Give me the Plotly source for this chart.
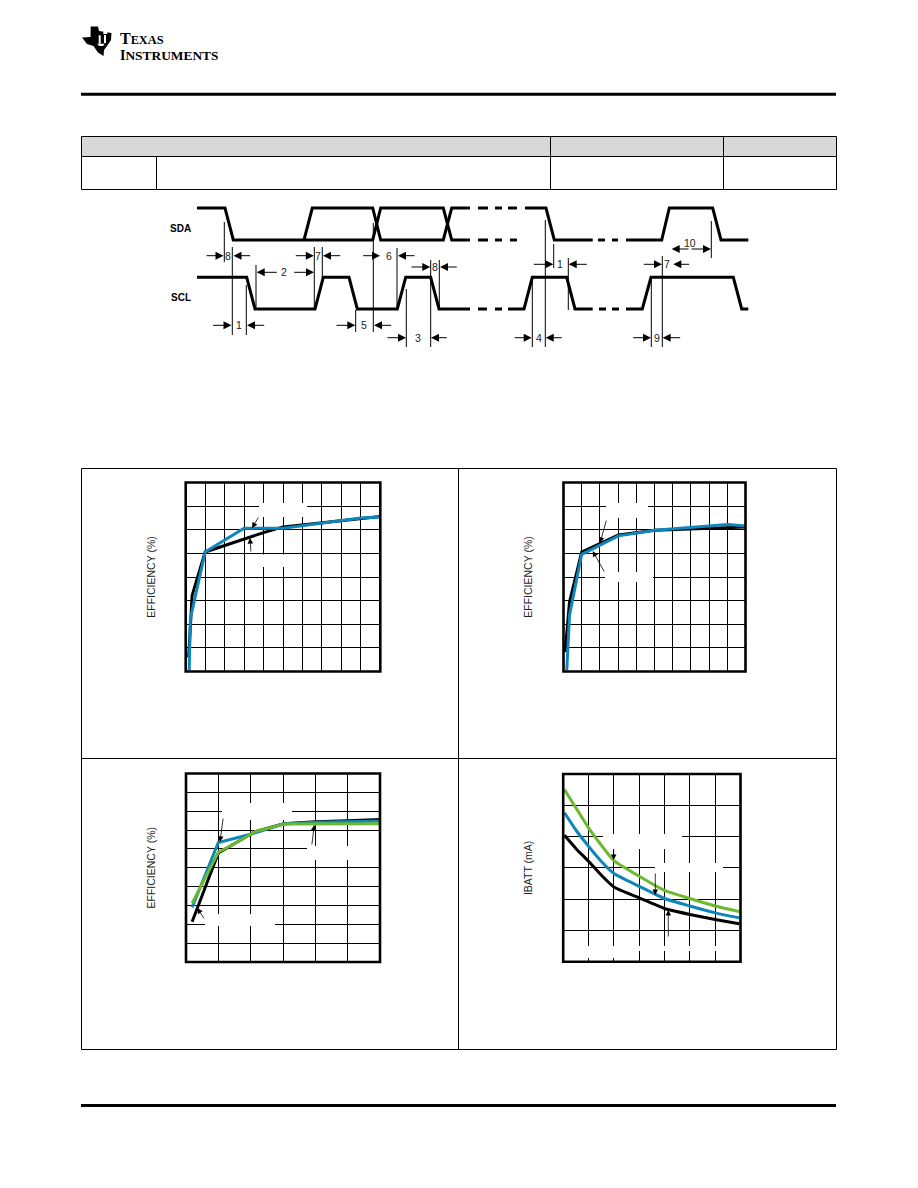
import plotly.graph_objects as go

W, H = 918, 1188
BLACK = "#000000"
BLUE = "#0f86bb"
GREEN = "#6cb92d"
FONT = "Liberation Sans"

# ---- chart data ----
EFF1_X_BLACK = [15, 33, 100, 300, 400, 500, 1000]
EFF1_Y_BLACK = [63.0, 76.1, 85.3, 88.1, 89.4, 90.6, 92.8]
EFF1_X_BLUE = [18, 24, 100, 300, 500, 900, 1000]
EFF1_Y_BLUE = [60.2, 71.2, 85.3, 90.3, 90.3, 92.5, 92.7]

EFF2_X_BLACK = [9, 33, 100, 204, 302, 501, 798, 1000]
EFF2_Y_BLACK = [64.1, 74.7, 85.3, 87.1, 88.9, 89.9, 90.4, 90.6]
EFF2_X_BLUE = [18, 33, 100, 302, 501, 798, 903, 1000]
EFF2_Y_BLUE = [60.2, 71.9, 84.8, 88.7, 89.9, 90.8, 91.1, 90.8]

EFF3_X_BLACK = [0.19, 1, 1.52, 2.14, 3.02, 4, 5, 6]
EFF3_Y_BLACK = [60.7, 78.9, 81.5, 84.6, 86.7, 87.2, 87.5, 87.8]
EFF3_X_BLUE = [0.19, 1, 2, 3.02, 4, 6]
EFF3_Y_BLUE = [64.5, 81.7, 83.9, 86.6, 87.1, 87.4]
EFF3_X_GREEN = [0.19, 1, 1.52, 2.14, 3.02, 6]
EFF3_Y_GREEN = [65.6, 79.1, 81.5, 84.6, 86.6, 86.7]

IBATT_X = [3.01, 3.1, 3.2, 3.3, 3.4, 3.6, 3.8, 4.0, 4.2, 4.39]
IBATT_GREEN = [550, 492, 428, 373, 323, 273, 228, 202, 178, 160]
IBATT_BLUE = [476, 421, 369, 321, 282, 241, 202, 178, 156, 140]
IBATT_BLACK = [404, 362, 321, 277, 239, 204, 170, 151, 135, 121]

# ---- timing diagram (page units) ----
SDA_X = [197, 225, 233.3, 372.7, 380.7, 443.3, 451.7, 470, None,
         304, 312.3, 372.7, 380.7, 443.3, 451.7, 470, None,
         478, 488, None, 495, 502, None, 508, 517, None,
         478, 488, None, 495, 502, None, 510, 517, None,
         525, 546, 554.3, 592.7, None, 598, 605, None, 612, 618, None,
         626, 661.7, 669.3, 712.7, 721, 748.3]
SDA_Y = [208, 208, 240, 240, 208, 208, 240, 240, None,
         240, 208, 208, 240, 240, 208, 208, None,
         208, 208, None, 208, 208, None, 208, 208, None,
         240, 240, None, 240, 240, None, 240, 240, None,
         208, 208, 240, 240, None, 240, 240, None, 240, 240, None,
         240, 240, 208, 208, 240, 240]
SCL_X = [197, 246.7, 255, 315, 323.3, 349, 357.3, 397.3, 405.7, 430.7, 439, 470, None,
         478, 487, None, 495, 502, None,
         508, 524, 532.3, 566.7, 575, 592.7, None, 599, 606, None, 612, 619, None,
         626, 642.3, 651, 733.3, 741.7, 748.3]
SCL_Y = [277.3, 277.3, 309, 309, 277.3, 277.3, 309, 309, 277.3, 277.3, 309, 309, None,
         309, 309, None, 309, 309, None,
         309, 309, 277.3, 277.3, 309, 309, None, 309, 309, None, 309, 309, None,
         309, 309, 277.3, 277.3, 309, 309]
DIM_LINES = [(224.3, 222, 262), (232.3, 247, 335), (246.3, 285, 335), (256, 265, 308),
             (314.3, 247, 308), (322.3, 247, 278), (373.3, 223, 332), (397, 248, 308),
             (355.7, 310, 332), (406.3, 289, 347), (430.7, 260, 347), (439.3, 260, 310),
             (545.3, 220, 347), (553.7, 244, 268), (568.3, 258, 310), (532.3, 277, 347),
             (711.3, 221, 258), (662.3, 256, 347), (651.3, 277, 347)]
DIM_ARROWS = [(205, 223.5, 255.7), (251.7, 233.5, 255.7), (211.7, 231.5, 325.3), (265.7, 247, 325.3),
              (294.3, 313.8, 255.7), (341.7, 323, 255.7), (361.7, 380, 255.7), (416, 398, 255.7),
              (410, 430.3, 267), (458.3, 440, 267), (278.3, 256.7, 272.3), (292.7, 314, 272.3),
              (335, 355.3, 325.3), (392.7, 374, 325.3), (386, 406, 337.7), (448.3, 431, 337.7),
              (532.3, 553.3, 264.3), (588.3, 568.7, 264.3), (513.3, 531.7, 337.7), (563.3, 545.7, 337.7),
              (642.3, 662, 264.3), (690.7, 673.3, 264.3), (631.7, 651, 337.7), (681.7, 662.7, 337.7),
              (690, 671.7, 249), (690, 711, 249)]
DIM_TEXT = [("8", 228.3, 255.7), ("1", 239, 325.3), ("7", 318.3, 255.7), ("6", 388.7, 255.7),
            ("8", 434.7, 267), ("2", 284.3, 272.3), ("5", 364.3, 325.3), ("3", 418, 337.7),
            ("1", 559.7, 264.3), ("4", 539, 337.7), ("7", 666.7, 264.3), ("9", 656.7, 337.7),
            ("10", 690, 243)]
SIGNALS = [("SDA", 180.5, 228.5), ("SCL", 180.5, 297.5)]

# ---- chart frames: left, right, top, bottom, x range, y range, dticks ----
PANELS = {
    "2": dict(box=(185.7, 380.3, 482.5, 671.5), xr=(0, 1000), yr=(60, 100), dx=100, dy=5, title="EFFICIENCY (%)"),
    "3": dict(box=(563.5, 745.5, 482.5, 671.5), xr=(0, 1000), yr=(60, 100), dx=100, dy=5, title="EFFICIENCY (%)"),
    "4": dict(box=(186, 380, 773.5, 962), xr=(0, 6), yr=(50, 100), dx=1, dy=5, title="EFFICIENCY (%)"),
    "5": dict(box=(563.2, 740.5, 774, 961.7), xr=(3.0, 4.4), yr=(0, 600), dx=0.2, dy=100, title="IBATT (mA)"),
}
# white patches over the grid (page units)
MASKS = {
    "2": [(259, 307, 503, 517), (253, 297, 554.5, 567)],
    "3": [(606, 648, 503, 518), (605, 653, 572, 582)],
    "4": [(222, 292, 803, 820), (307, 379, 846, 860), (205, 275, 914, 926)],
    "5": [(603, 682, 834, 849), (655, 723, 863, 872), (567, 637, 946, 958), (637, 738, 946, 951)],
}
LEADERS = [
    (259.3, 516, 252, 528), (251, 553, 250, 538),
    (606.7, 519, 600, 543), (605, 573, 592.7, 551),
    (223.3, 817, 220, 842), (311.7, 846, 314.3, 825), (205, 920, 197.3, 908),
    (613.7, 849, 613.7, 860), (655.3, 872, 655.3, 895), (668.3, 938, 668.3, 910),
]

fig = go.Figure()


def pg(x, y, **kw):
    fig.add_trace(go.Scatter(x=x, y=y, xaxis="x", yaxis="y", mode="lines", hoverinfo="skip",
                             showlegend=False, **kw))


pg(SDA_X, SDA_Y, line=dict(color=BLACK, width=3))
pg(SCL_X, SCL_Y, line=dict(color=BLACK, width=3))
for x, y0, y1 in DIM_LINES:
    pg([x, x], [y0, y1], line=dict(color=BLACK, width=1))


def series(k, x, y, color, shape="linear"):
    fig.add_trace(go.Scatter(x=x, y=y, xaxis="x" + k, yaxis="y" + k, mode="lines", hoverinfo="skip",
                             showlegend=False, line=dict(color=color, width=3, shape=shape, smoothing=0.5)))


series("2", EFF1_X_BLACK, EFF1_Y_BLACK, BLACK)
series("2", EFF1_X_BLUE, EFF1_Y_BLUE, BLUE)
series("3", EFF2_X_BLACK, EFF2_Y_BLACK, BLACK)
series("3", EFF2_X_BLUE, EFF2_Y_BLUE, BLUE)
series("4", EFF3_X_BLACK, EFF3_Y_BLACK, BLACK)
series("4", EFF3_X_BLUE, EFF3_Y_BLUE, BLUE)
series("4", EFF3_X_GREEN, EFF3_Y_GREEN, GREEN)
series("5", IBATT_X, IBATT_BLACK, BLACK, "spline")
series("5", IBATT_X, IBATT_BLUE, BLUE, "spline")
series("5", IBATT_X, IBATT_GREEN, GREEN, "spline")

shapes, annos = [], []
layout = dict(
    width=W, height=H, margin=dict(l=0, r=0, t=0, b=0), paper_bgcolor="white", plot_bgcolor="rgba(0,0,0,0)",
    showlegend=False, font=dict(family=FONT, color="#222222"),
    xaxis=dict(domain=[0, 1], range=[0, W], visible=False, fixedrange=True),
    yaxis=dict(domain=[0, 1], range=[H, 0], visible=False, fixedrange=True),
)


def line(x0, y0, x1, y1, width=1, color=BLACK):
    shapes.append(dict(type="line", xref="x", yref="y", x0=x0, y0=y0, x1=x1, y1=y1,
                       line=dict(color=color, width=width), layer="above"))


def rect(x0, y0, x1, y1, fill, width=0):
    shapes.append(dict(type="rect", xref="x", yref="y", x0=x0, y0=y0, x1=x1, y1=y1, fillcolor=fill,
                       line=dict(color=BLACK, width=width), layer="below"))


def poly(points, fill):
    shapes.append(dict(type="path", xref="x", yref="y", fillcolor=fill, line=dict(width=0), layer="above",
                       path="M" + "L".join(f"{a},{b}" for a, b in points) + "Z"))


# rules, table, outer box
rect(81, 92.8, 836, 95.8, BLACK)
rect(81, 1104, 836, 1107, BLACK)
rect(81.5, 136.5, 836.5, 156.5, "#d8d8d8", 1)
rect(81.5, 156.5, 836.5, 189.5, "white", 1)
for xv, y0 in [(156.5, 156.5), (550.5, 136.5), (723.5, 136.5)]:
    line(xv, y0, xv, 189.5)
rect(81.5, 468.5, 836.5, 1049.5, "rgba(0,0,0,0)", 1)
line(81.5, 758.5, 836.5, 758.5)
line(458.5, 468.5, 458.5, 1049.5)

# logo mark
poly([(82, 37.5), (90.5, 37), (90.7, 26.5), (98, 26.5), (99, 31), (111.5, 33), (111, 40), (107, 46),
      (104, 50), (103.5, 56), (98, 52.5), (93.5, 46), (87, 44)], BLACK)
poly([(98.7, 35.3), (100.7, 35.3), (100.7, 43.7), (98.7, 43.7)], "white")
poly([(104, 35), (106, 35), (106, 43), (104, 43)], "white")
poly([(103.3, 31.3), (107.3, 31.3), (107.3, 34), (103.3, 34)], "white")
poly([(97.3, 43.7), (104.7, 43.7), (103, 46), (99, 46)], "white")
annos.append(dict(xref="x", yref="y", x=117.5, y=46.5, xanchor="left", yanchor="middle", align="left",
                  showarrow=False,
                  text='<b><span style="font-size:16px">T</span>EXAS<br>'
                       '<span style="font-size:14px">I</span><span style="font-size:13.4px">NSTRUMENTS</span></b>',
                  font=dict(family="Liberation Serif", size=12.3, color=BLACK)))

# timing annotations
for t, x, y in SIGNALS:
    annos.append(dict(xref="x", yref="y", x=x, y=y, showarrow=False, text=f"<b>{t}</b>",
                      font=dict(family=FONT, size=10, color=BLACK)))
for t, x, y in DIM_TEXT:
    annos.append(dict(xref="x", yref="y", x=x, y=y, showarrow=False, text=t,
                      font=dict(family=FONT, size=10.5, color="#222222")))
for x0, x1, y in DIM_ARROWS:
    annos.append(dict(xref="x", yref="y", axref="x", ayref="y", x=x1, y=y, ax=x0, ay=y, text="", showarrow=True,
                      arrowhead=2, arrowsize=1.6, arrowwidth=1, arrowcolor=BLACK, standoff=0, startstandoff=0))
for x0, y0, x1, y1 in LEADERS:
    annos.append(dict(xref="x", yref="y", axref="x", ayref="y", x=x1, y=y1, ax=x0, ay=y0, text="", showarrow=True,
                      arrowhead=2, arrowsize=1.4, arrowwidth=0.8, arrowcolor=BLACK, standoff=0, startstandoff=0))

# chart panels
for k, p in PANELS.items():
    l, r, t, b = p["box"]
    layout["xaxis" + k] = dict(domain=[l / W, r / W], range=list(p["xr"]), dtick=p["dx"], tick0=p["xr"][0],
                               anchor="y" + k, showticklabels=False, ticks="", showgrid=True, gridcolor=BLACK,
                               gridwidth=1, zeroline=False, showline=False, fixedrange=True)
    layout["yaxis" + k] = dict(domain=[1 - b / H, 1 - t / H], range=list(p["yr"]), dtick=p["dy"], tick0=p["yr"][0],
                               anchor="x" + k, showticklabels=False, ticks="", showgrid=True, gridcolor=BLACK,
                               gridwidth=1, zeroline=False, showline=False, fixedrange=True,
                               title=dict(text=p["title"], standoff=27,
                                          font=dict(family=FONT, size=10.5, color="#222222")))
    xa, xb = p["xr"]
    ya, yb = p["yr"]
    for m in MASKS[k]:
        shapes.append(dict(type="rect", xref="x" + k, yref="y" + k, layer="between", fillcolor="white",
                           line=dict(width=0),
                           x0=xa + (m[0] - l) / (r - l) * (xb - xa), x1=xa + (m[1] - l) / (r - l) * (xb - xa),
                           y0=yb - (m[2] - t) / (b - t) * (yb - ya), y1=yb - (m[3] - t) / (b - t) * (yb - ya)))
    shapes.append(dict(type="rect", xref=f"x{k} domain", yref=f"y{k} domain", x0=0, x1=1, y0=0, y1=1,
                       line=dict(color=BLACK, width=2.6), layer="above"))

layout["shapes"] = shapes
layout["annotations"] = annos
fig.update_layout(**layout)
fig.write_html("out.html", config=dict(displayModeBar=False),
               post_script="document.body.style.margin='0';document.documentElement.style.overflow='hidden';")
